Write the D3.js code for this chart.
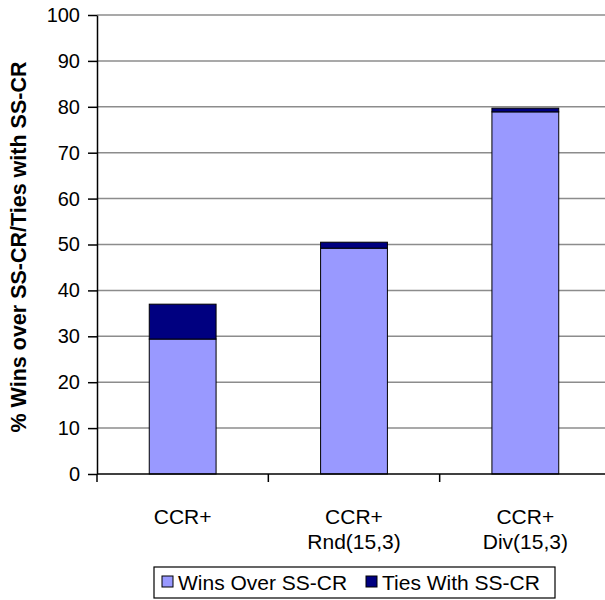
<!DOCTYPE html>
<html>
<head>
<meta charset="utf-8">
<script src="https://cdn.jsdelivr.net/npm/d3@7"></script>
<style>
  body { margin: 0; background: #fff; }
  text { font-family: Arial, "Liberation Sans", sans-serif; }
</style>
</head>
<body>
<svg id="chart" width="605" height="600"></svg>
<script>
// data
var categories = [["CCR+"], ["CCR+", "Rnd(15,3)"], ["CCR+", "Div(15,3)"]];
var wins = [29.4, 49.2, 78.9];
var ties = [7.6, 1.3, 0.8];
var seriesNames = ["Wins Over SS-CR", "Ties With SS-CR"];
var seriesColors = ["#9999ff", "#000080"];
var yTicks = [0, 10, 20, 30, 40, 50, 60, 70, 80, 90, 100];

var margin = { top: 15, left: 97, bottom: 126, right: 0 },
  plotRight = 611,
  height = 600 - margin.top - margin.bottom;

var svg = d3.select("#chart");

var keys = categories.map(function (c, i) { return i; });
var x = d3.scaleBand().domain(keys).range([margin.left, plotRight]).padding(0);
var y = d3.scaleLinear().domain([0, 100]).range([margin.top + height, margin.top]);

var barW = x.bandwidth() * 0.39;

// gridlines
svg.append("g")
  .selectAll("line")
  .data(yTicks.slice(1))
  .enter()
  .append("line")
  .attr("x1", margin.left)
  .attr("x2", 605)
  .attr("y1", function (d) { return y(d); })
  .attr("y2", function (d) { return y(d); })
  .attr("stroke", "#8c8c8c")
  .attr("stroke-width", 1.5);

// stacked bars
var stackData = keys.map(function (i) { return { i: i, wins: wins[i], ties: ties[i] }; });
var stack = d3.stack().keys(["wins", "ties"])(stackData);

svg.append("g")
  .selectAll("g")
  .data(stack)
  .enter()
  .append("g")
  .attr("fill", function (d, k) { return seriesColors[k]; })
  .selectAll("rect")
  .data(function (d) { return d; })
  .enter()
  .append("rect")
  .attr("x", function (d) { return x(d.data.i) + x.bandwidth() / 2 - barW / 2; })
  .attr("width", barW)
  .attr("y", function (d) { return y(d[1]); })
  .attr("height", function (d) { return y(d[0]) - y(d[1]); })
  .attr("stroke", "#000")
  .attr("stroke-width", 1);

// y axis
var yAxis = svg.append("g")
  .attr("transform", "translate(" + margin.left + ",0)")
  .call(d3.axisLeft(y).tickValues(yTicks).tickSize(9).tickPadding(8).tickSizeOuter(0));
yAxis.select(".domain").attr("stroke", "#000").attr("stroke-width", 1.5);
yAxis.selectAll(".tick line").attr("stroke", "#000").attr("stroke-width", 1.5);
yAxis.selectAll("text")
  .style("font-size", "20px")
  .style("font-family", "Arial, 'Liberation Sans', sans-serif")
  .attr("fill", "#000");

// x axis
var xAxisG = svg.append("g")
  .attr("transform", "translate(0," + y(0) + ")");
xAxisG.append("line")
  .attr("x1", margin.left).attr("x2", 605)
  .attr("stroke", "#000").attr("stroke-width", 1.5);
xAxisG.selectAll(".xt")
  .data(keys)
  .enter()
  .append("line")
  .attr("x1", function (d) { return x(d); })
  .attr("x2", function (d) { return x(d); })
  .attr("y1", 0).attr("y2", 8)
  .attr("stroke", "#000").attr("stroke-width", 1.5);

var xl = svg.append("g")
  .selectAll("text")
  .data(keys)
  .enter()
  .append("text")
  .attr("text-anchor", "middle")
  .style("font-size", "21px")
  .attr("x", function (d) { return x(d) + x.bandwidth() / 2; })
  .attr("y", 524);
xl.selectAll("tspan")
  .data(function (d) { return categories[d]; })
  .enter()
  .append("tspan")
  .attr("x", function () { return d3.select(this.parentNode).attr("x"); })
  .attr("dy", function (d, j) { return j === 0 ? 0 : 25; })
  .text(function (d) { return d; });

// y label
svg.append("text")
  .attr("text-anchor", "middle")
  .attr("transform", "translate(26,247) rotate(-90)")
  .style("font-size", "21.5px")
  .attr("font-weight", "bold")
  .text("% Wins over SS-CR/Ties with SS-CR");

// legend
var legend = svg.append("g");
legend.append("rect")
  .attr("x", 154).attr("y", 567)
  .attr("width", 401).attr("height", 31)
  .attr("fill", "#fff").attr("stroke", "#000").attr("stroke-width", 1.2);
var legX = [162, 366];
seriesNames.forEach(function (name, k) {
  legend.append("rect")
    .attr("x", legX[k]).attr("y", 576)
    .attr("width", 11).attr("height", 11)
    .attr("fill", seriesColors[k]).attr("stroke", "#000");
  legend.append("text")
    .attr("x", legX[k] + 16).attr("y", 590)
    .style("font-size", "21px")
    .text(name);
});
</script>
</body>
</html>
